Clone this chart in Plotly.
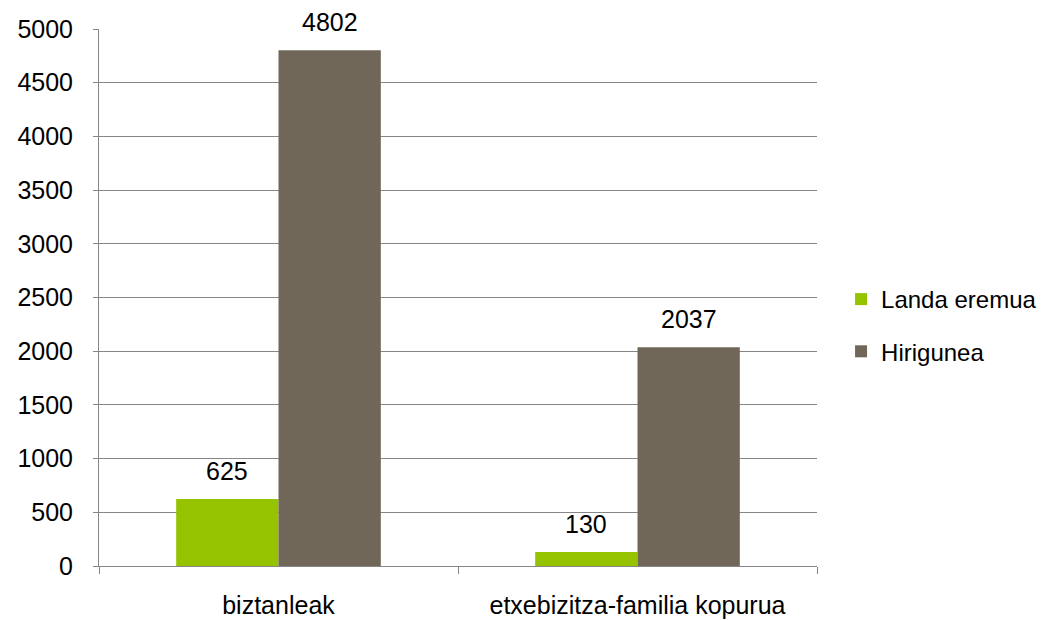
import plotly.graph_objects as go

categories = ["biztanleak", "etxebizitza-familia kopurua"]
landa = [625, 130]
hirigunea = [4802, 2037]
series_names = ["Landa eremua", "Hirigunea"]
series_colors = ["#95C300", "#716758"]
y_ticks = [0, 500, 1000, 1500, 2000, 2500, 3000, 3500, 4000, 4500, 5000]

font = dict(family="Liberation Sans, Arial, sans-serif", size=25, color="#000000")
legend_font = dict(family="Liberation Sans, Arial, sans-serif", size=24, color="#000000")

W, H = 1050, 620
margin = dict(l=99, r=233, t=29, b=54)
bargap = 0.43
plot_w = W - margin["l"] - margin["r"]
bar_px = plot_w / len(categories) * (1 - bargap) / 2

fig = go.Figure()
for i, (name, vals, col) in enumerate(zip(series_names, [landa, hirigunea], series_colors)):
    fig.add_trace(go.Bar(x=categories, y=vals, name=name, marker_color=col,
                         marker_line_width=0, legendgroup=name))
    shift = (i - 0.5) * bar_px
    for c, v in zip(categories, vals):
        fig.add_annotation(x=c, y=v, text=str(v), showarrow=False, xshift=shift,
                           yshift=28, font=font, yanchor="middle")

fig.update_layout(
    width=W, height=H,
    margin=margin,
    paper_bgcolor="white", plot_bgcolor="white",
    barmode="group", bargap=bargap, bargroupgap=0,
    font=font,
    legend=dict(xref="container", yref="container", x=0.801, y=0.475,
                xanchor="left", yanchor="middle", font=legend_font,
                itemwidth=30, tracegroupgap=18),
    xaxis=dict(showline=True, linecolor="#868686", linewidth=1, ticks="outside",
               tickson="boundaries", ticklen=7, tickcolor="#868686", showgrid=False,
               ticklabelstandoff=17, automargin=False),
    yaxis=dict(range=[0, 5000], tickvals=y_ticks, showline=True, linecolor="#868686",
               linewidth=1, ticks="outside", ticklen=5, tickcolor="#868686",
               showgrid=True, gridcolor="#868686", gridwidth=1, zeroline=False,
               ticklabelstandoff=15, automargin=False),
)
fig.write_html("out.html", config={"displayModeBar": False},
               post_script="document.body.style.margin='0';")
